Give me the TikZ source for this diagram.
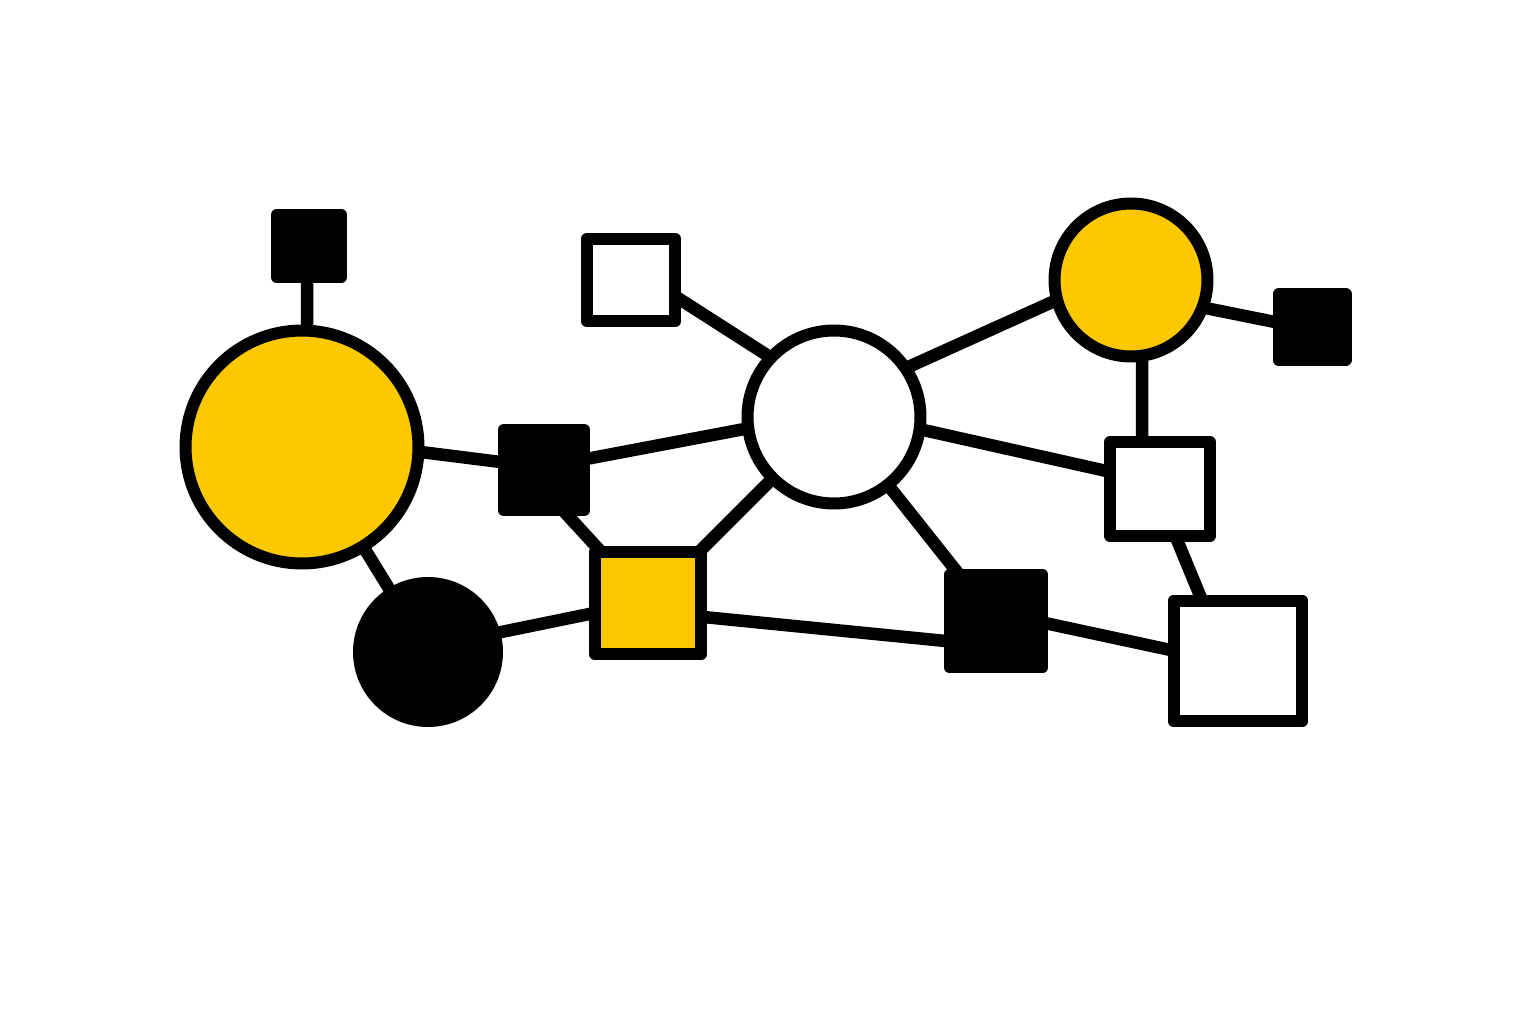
\documentclass[tikz,border=0pt]{standalone}
\usetikzlibrary{backgrounds}
\definecolor{nodeyellow}{RGB}{252,200,0}
\begin{document}
\begin{tikzpicture}[
  x=0.02cm, y=-0.02cm,
  block/.style={rectangle, draw, line width=0.24cm, line join=round, inner sep=0pt, outer sep=0pt},
  disc/.style={circle, draw, line width=0.24cm, inner sep=0pt, outer sep=0pt},
  link/.style={draw, line width=0.25cm}
]
\useasboundingbox (0,0) rectangle (1536,1024);

\node[disc, fill=nodeyellow, minimum size=4.66cm] (bigyel) at (302,447) {};
\node[block, fill=black, minimum width=1.30cm, minimum height=1.24cm] (topblk) at (309,246) {};
\node[block, fill=white, minimum width=1.76cm, minimum height=1.66cm] (topwht) at (631,280) {};
\node[disc, fill=white, minimum size=3.46cm] (hub) at (834,417) {};
\node[disc, fill=nodeyellow, minimum size=3.06cm] (yelr) at (1131,280) {};
\node[block, fill=black, minimum width=1.34cm, minimum height=1.32cm] (blkr) at (1312,327) {};
\node[block, fill=black, minimum width=1.60cm, minimum height=1.62cm] (blkmid) at (544,470) {};
\node[block, fill=white, minimum width=2.00cm, minimum height=1.88cm] (whtr) at (1160,489) {};
\node[disc, fill=black, minimum size=2.76cm] (blkdisc) at (428,652) {};
\node[block, fill=nodeyellow, minimum width=2.14cm, minimum height=2.04cm] (yelsq) at (648,603) {};
\node[block, fill=black, minimum width=1.86cm, minimum height=1.86cm] (blklow) at (996,621) {};
\node[block, fill=white, minimum width=2.58cm, minimum height=2.42cm] (whtlow) at (1238,661) {};

% links run centre to centre, under the nodes
\begin{scope}[on background layer]
\draw[link] ([xshift=-0.04cm]topblk.center) -- ([xshift=0.1cm]bigyel.center);
\draw[link] ([yshift=0.2cm]bigyel.center) -- ([yshift=0.05cm]blkmid.center);
\draw[link] (bigyel.center) -- (blkdisc.center);
\draw[link] ([yshift=0.1cm]blkdisc.center) -- ([yshift=0.02cm]yelsq.center);
\draw[link] ([yshift=0.06cm]blkmid.center) -- ([yshift=0.1cm]hub.center);
\draw[link] ([xshift=-0.36cm]blkmid.center) -- (yelsq.center);
\draw[link] ([yshift=0.24cm]topwht.center) -- ([yshift=0.38cm]hub.center);
\draw[link] ([yshift=0.33cm]hub.center) -- ([yshift=0.27cm]yelr.center);
\draw[link] (hub.center) -- (yelsq.center);
\draw[link] ([yshift=0.14cm]hub.center) -- ([yshift=0.12cm]whtr.center);
\draw[link] (hub.center) -- (blklow.center);
\draw[link] ([yshift=-0.26cm]yelr.center) -- ([yshift=-0.05cm]blkr.center);
\draw[link] ([xshift=0.22cm]yelr.center) -- ([xshift=-0.36cm]whtr.center);
\draw[link] ([xshift=-0.08cm]whtr.center) -- ([xshift=-0.22cm]whtlow.center);
\draw[link] ([yshift=-0.17cm]yelsq.center) -- ([yshift=-0.5cm]blklow.center);
\draw[link] ([yshift=0.17cm]blklow.center) -- ([yshift=-0.07cm]whtlow.center);
\end{scope}
\end{tikzpicture}
\end{document}
